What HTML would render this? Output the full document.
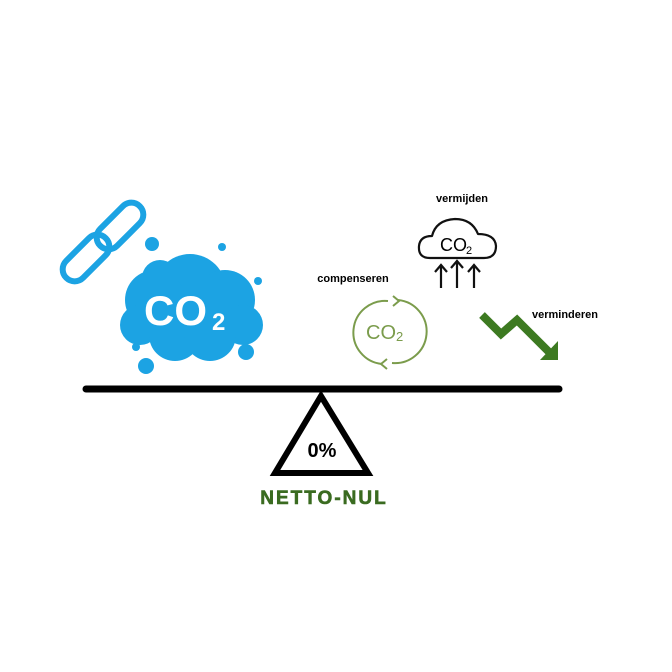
<!DOCTYPE html>
<html><head><meta charset="utf-8"><style>
html,body{margin:0;padding:0;background:#fff;width:672px;height:672px;overflow:hidden}
svg{display:block}
text{font-family:"Liberation Sans",sans-serif}
</style></head><body>
<svg width="672" height="672" viewBox="0 0 672 672" xmlns="http://www.w3.org/2000/svg">
<!-- chain -->
<g fill="none" stroke="#1ca3e3" stroke-width="6" stroke-linejoin="round" stroke-linecap="round">
<rect x="58" y="246" width="56" height="24" rx="12" transform="rotate(-45 86 258)"/>
<rect x="92" y="214" width="56" height="24" rx="12" transform="rotate(-45 120 226)"/>
</g>
<!-- blue cloud -->
<g fill="#1ca3e3">
<circle cx="190" cy="290" r="36"/>
<circle cx="155" cy="300" r="30"/>
<circle cx="225" cy="300" r="30"/>
<circle cx="140" cy="325" r="20"/>
<circle cx="243" cy="325" r="20"/>
<circle cx="175" cy="335" r="26"/>
<circle cx="210" cy="335" r="26"/>
<circle cx="160" cy="278" r="18"/>
<circle cx="152" cy="244" r="7"/>
<circle cx="222" cy="247" r="4"/>
<circle cx="258" cy="281" r="4"/>
<circle cx="136" cy="347" r="4"/>
<circle cx="146" cy="366" r="8"/>
<circle cx="246" cy="352" r="8"/>
</g>
<text x="144" y="325" fill="#fff" font-size="42" font-weight="bold">CO</text>
<text x="212" y="330" fill="#fff" font-size="24" font-weight="bold">2</text>
<!-- vermijden -->
<text x="462" y="202" text-anchor="middle" font-size="11" font-weight="bold">vermijden</text>
<path d="M430 258 Q418 258 419 246 Q420 236 432 236 Q436 220 455 219 Q472 219 478 234 Q495 234 496 246 Q496 258 484 258 Z" fill="none" stroke="#111" stroke-width="2.2" stroke-linejoin="round"/>
<text x="440" y="251" font-size="18">CO</text><text x="466" y="254" font-size="11">2</text>
<g stroke="#111" stroke-width="2.2" fill="none">
<path d="M441 288 V266 M435 272 L441 265 L447 272"/>
<path d="M457 288 V262 M451 268 L457 261 L463 268"/>
<path d="M474 288 V266 M468 272 L474 265 L480 272"/>
</g>
<!-- compenseren -->
<text x="353" y="282" text-anchor="middle" font-size="11" font-weight="bold">compenseren</text>
<g fill="none" stroke="#7b9c4c" stroke-width="2">
<path d="M398 300 A31 31 0 0 1 392 363"/>
<path d="M382 364 A31 31 0 0 1 388 301"/>
<path d="M393 296 L399 301 L393 306"/>
<path d="M387 359 L381 364 L387 369"/>
</g>
<text x="366" y="339" fill="#7b9c4c" font-size="20">CO</text><text x="396" y="341" fill="#7b9c4c" font-size="13">2</text>
<!-- verminderen -->
<text x="565" y="318" text-anchor="middle" font-size="11" font-weight="bold">verminderen</text>
<path d="M482 315 L501 334 L517 320 L549 352" fill="none" stroke="#3d7a21" stroke-width="8"/>
<path d="M558 341 L558 360 L540 360 Z" fill="#3d7a21"/>
<!-- beam -->
<line x1="86" y1="389" x2="559" y2="389" stroke="#000" stroke-width="7" stroke-linecap="round"/>
<path d="M321 396 L275 473 L368 473 Z" fill="none" stroke="#000" stroke-width="6" stroke-linejoin="miter"/>
<text x="322" y="457" text-anchor="middle" font-size="20" font-weight="bold">0%</text>
<text x="324" y="504" text-anchor="middle" font-size="19" font-weight="900" fill="#3a6b20" letter-spacing="2" stroke="#3a6b20" stroke-width="0.6">NETTO-NUL</text>
</svg>
</body></html>
